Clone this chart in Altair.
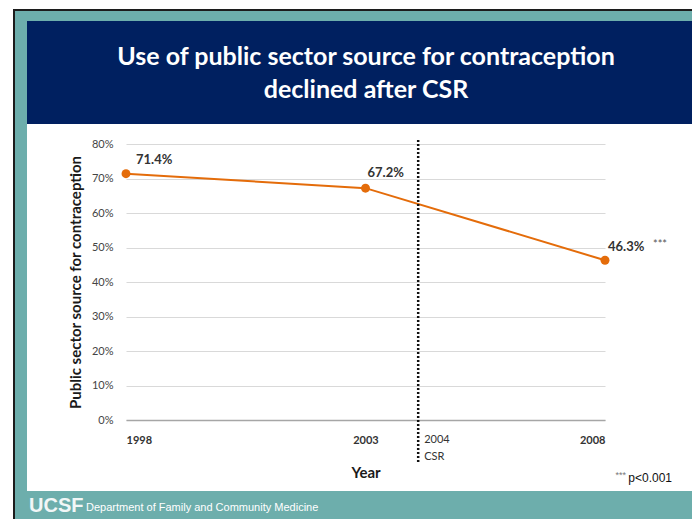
import altair as alt
import pandas as pd

# ---- data ----
years = [1998, 2003, 2008]
pct = [71.4, 67.2, 46.3]
pct_labels = ["71.4%", "67.2%", "46.3%"]
y_ticks = [0, 10, 20, 30, 40, 50, 60, 70, 80]
csr_year = [2004.1]
csr_text = ["2004", "CSR"]
title_lines = ["Use of public sector source for contraception", "declined after CSR"]
footer_text = "Department of Family and Community Medicine"
logo_text = "UCSF"
sig_text = "p<0.001"
sig_stars = "***"

df = pd.DataFrame({"year": years, "pct": pct, "label": pct_labels})
csr_df = pd.DataFrame({"year": csr_year})
one = pd.DataFrame({"k": [0]})

NAVY = "#002060"
TEAL = "#6daeac"
DARK = "#1c1c1c"
ORANGE = "#e46c0a"
FONT = "Lato"

def strip(color, x, x2, y, y2):
    return alt.Chart(one).mark_rect(color=color, strokeWidth=0).encode(
        x=alt.value(x), x2=alt.value(x2), y=alt.value(y), y2=alt.value(y2))

bg = [
    # black outline (left & top)
    strip(DARK, -113, -111, -135, 400),
    strip(DARK, -113, 580, -135, -133),
    # teal frame (left, top, bottom)
    strip(TEAL, -111, -99, -133, 400),
    strip(TEAL, -111, 580, -133, -123),
    strip(TEAL, -111, 580, 347, 400),
    # navy title box
    strip(NAVY, -99, 580, -123, -20),
]

def txt(text, x, y, size, color, weight="normal", align="center", font=FONT, baseline="middle"):
    return alt.Chart(one).mark_text(
        text=text, fontSize=size, color=color, fontWeight=weight, align=align,
        font=font, baseline=baseline
    ).encode(x=alt.value(x), y=alt.value(y))

titles = [
    txt(title_lines[0], 240, -87, 25, "white", "bold"),
    txt(title_lines[1], 240, -54, 25, "white", "bold"),
]

footer = [
    txt(logo_text, -97, 362, 20, "#f2f7f7", "bold", "left", "Liberation Sans"),
    txt(footer_text, -40, 364, 11, "white", "normal", "left", "Liberation Sans"),
    txt(sig_text, 546, 334, 12, "#111111", "normal", "right", "Liberation Sans"),
    alt.Chart(one).mark_text(text=sig_stars, fontSize=9, color="#777777", align="right",
                             font="Liberation Sans", baseline="middle", dy=-3)
        .encode(x=alt.value(500), y=alt.value(334)),
]

x_enc = alt.X(
    "year:Q",
    scale=alt.Scale(domain=[1998, 2008], nice=False, zero=False),
    axis=alt.Axis(
        values=years, format="d", title="Year", grid=False, ticks=False,
        domainColor="#a6a6a6", domainWidth=1.5, labelOverlap=False,
        labelFont=FONT, labelFontSize=11, labelFontWeight="bold", labelColor="#333333",
        labelPadding=14,
        titleFont=FONT, titleFontSize=15, titleFontWeight="bold", titleColor="#1a1a1a",
        titleY=52, titleBaseline="middle",
    ),
)
y_enc = alt.Y(
    "pct:Q",
    scale=alt.Scale(domain=[0, 80], nice=False),
    axis=alt.Axis(
        values=y_ticks, tickCount=9, labelExpr="datum.value + '%'", labelOverlap=False,
        title="Public sector source for contraception",
        domain=False, ticks=False, gridColor="#d9d9d9", gridWidth=1,
        labelFont=FONT, labelFontSize=11, labelColor="#444444", labelPadding=13,
        titleFont=FONT, titleFontSize=15, titleFontWeight="bold", titleColor="#1a1a1a",
        titleX=-51, titleY=138, titleBaseline="middle",
    ),
)

base = alt.Chart(df).encode(x=x_enc, y=y_enc)
line = base.mark_line(color=ORANGE, strokeWidth=2)
pts = base.mark_circle(color=ORANGE, size=80, opacity=1)

def lab(year, dx, dy):
    return base.transform_filter(alt.datum.year == year).mark_text(
        font=FONT, fontSize=13, fontWeight="bold", color="#333333", align="left",
        dx=dx, dy=dy, baseline="middle"
    ).encode(text="label:N")

labels = [
    lab(1998, 10, -14),
    lab(2003, 2, -15),
    lab(2008, 3, -13),
    base.transform_filter(alt.datum.year == 2008).mark_text(
        font=FONT, fontSize=11, color="#555555", align="left", dx=48, dy=-15, baseline="middle",
        text=sig_stars
    ),
]

csr_base = alt.Chart(csr_df).encode(x=x_enc)
csr_rule = csr_base.mark_rule(color="#111111", strokeWidth=2.5, strokeDash=[2, 2]).encode(
    y=alt.value(-4), y2=alt.value(320))
csr_lab = [
    csr_base.mark_text(text=csr_text[0], font=FONT, fontSize=11, align="left",
                       dx=6, baseline="middle", color="#333333").encode(y=alt.value(296)),
    csr_base.mark_text(text=csr_text[1], font=FONT, fontSize=11, align="left",
                       dx=6, baseline="middle", color="#333333").encode(y=alt.value(313)),
]

chart = alt.layer(
    *bg, *titles, *footer, line, pts, *labels, csr_rule, *csr_lab
).properties(
    width=479, height=276,
    padding={"left": 118, "top": 136, "right": 87, "bottom": 99},
    autosize=alt.AutoSizeParams(type="none"),
    background="white",
).configure_view(strokeWidth=0)

chart.save("out.html", embed_options={"renderer": "svg", "actions": False})
